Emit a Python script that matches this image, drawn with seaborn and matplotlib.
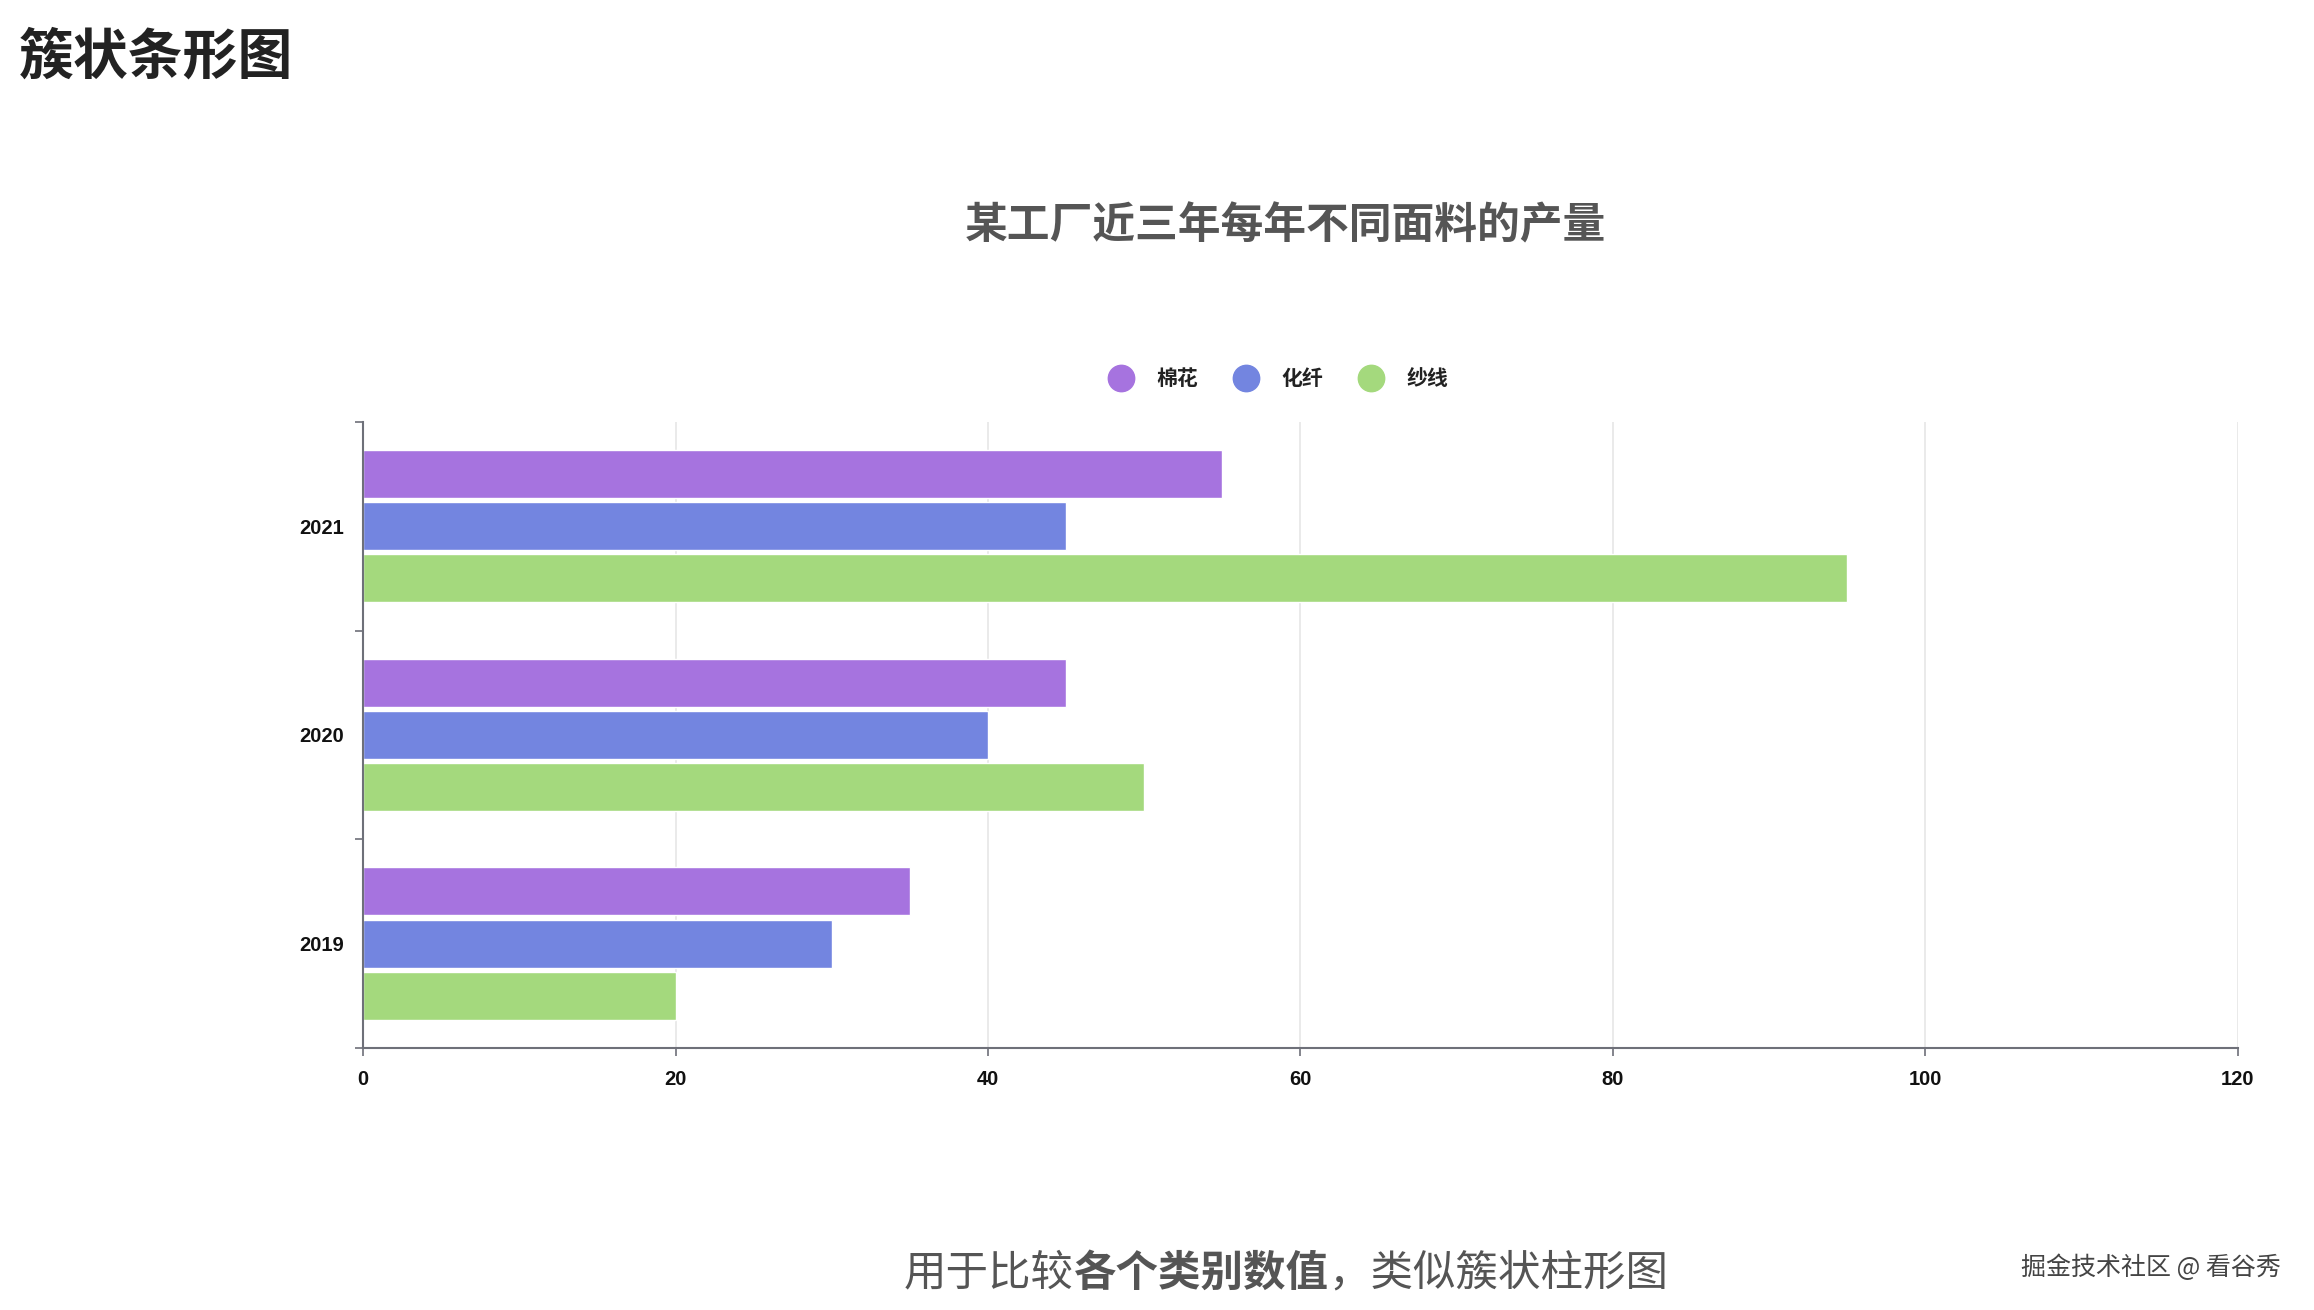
import pandas as pd
import matplotlib.pyplot as plt
import seaborn as sns
from matplotlib.lines import Line2D

years = ['2021', '2020', '2019']
fabrics = ['棉花', '化纤', '纱线']
cotton = [55, 45, 35]
fiber = [45, 40, 30]
yarn = [95, 50, 20]
colors = ['#a673df', '#7385e0', '#a4d97d']
xticks = [0, 20, 40, 60, 80, 100, 120]

df = pd.DataFrame({
    'year': years * 3,
    'fabric': [fabrics[0]] * 3 + [fabrics[1]] * 3 + [fabrics[2]] * 3,
    'value': cotton + fiber + yarn,
})

sns.set_theme(style='white')
plt.rcParams['font.family'] = ['Noto Sans CJK SC', 'DejaVu Sans']

fig = plt.figure(figsize=(23.14, 13.10), dpi=100)
ax = fig.add_axes([0.157, 0.2, 0.81, 0.478])

sns.barplot(data=df, x='value', y='year', hue='fabric', order=years,
            hue_order=fabrics, palette=colors, orient='h', width=0.75,
            gap=0.08, errorbar=None, saturation=1, legend=False, ax=ax)

ax.set_xlim(0, 120)
ax.set_ylim(2.5, -0.5)
ax.set_xticks(xticks)
ax.set_xticklabels([str(t) for t in xticks], family=['Liberation Sans'],
                   fontsize=14.5, fontweight='bold', color='#111111')
ax.set_yticks(range(len(years)))
ax.set_yticklabels(years, family=['Liberation Sans'], fontsize=14.5,
                   fontweight='bold', color='#111111')
ax.set_yticks([-0.5, 0.5, 1.5, 2.5], minor=True)
ax.tick_params(axis='y', which='major', length=0, pad=14)
ax.tick_params(axis='y', which='minor', length=6, width=1.2, color='#6e7079', left=True)
ax.tick_params(axis='x', which='major', length=6, width=1.2, color='#6e7079',
               bottom=True, pad=10)
ax.xaxis.grid(True, color='#e6e6e6', linewidth=1.2)
ax.set_axisbelow(True)
ax.set_xlabel('')
ax.set_ylabel('')
for s in ['top', 'right']:
    ax.spines[s].set_visible(False)
for s in ['left', 'bottom']:
    ax.spines[s].set_color('#6e7079')
    ax.spines[s].set_linewidth(1.5)

handles = [Line2D([0], [0], marker='o', linestyle='', markersize=19,
                  markerfacecolor=c, markeredgecolor=c) for c in colors]
leg = fig.legend(handles, fabrics, loc='center', bbox_to_anchor=(0.552, 0.711),
                 ncol=3, frameon=False, handlelength=1.4, handletextpad=1.0,
                 columnspacing=1.6, prop={'size': 15, 'weight': 'bold'})
for t in leg.get_texts():
    t.set_color('#222222')

fig.text(0.008, 0.978, '簇状条形图', fontsize=39.5, fontweight='bold',
         color='#222222', ha='left', va='top')
fig.text(0.5555, 0.828, '某工厂近三年每年不同面料的产量', fontsize=30.8,
         fontweight='bold', color='#555555', ha='center', va='center')

t1 = fig.text(0.3905, 0.019, '用于比较', fontsize=30.6, color='#555555',
              ha='left', va='baseline')
t2 = ax.annotate('各个类别数值', xy=(1, 0), xycoords=t1, fontsize=30.6,
                 fontweight='bold', color='#555555', ha='left', va='bottom',
                 annotation_clip=False)
ax.annotate('，类似簇状柱形图', xy=(1, 0), xycoords=t2, fontsize=30.6,
            color='#555555', ha='left', va='bottom', annotation_clip=False)

fig.text(0.9855, 0.027, '掘金技术社区 @ 看谷秀', fontsize=18, color='#444444',
         ha='right', va='baseline')

fig.savefig('out.png', dpi=100)
